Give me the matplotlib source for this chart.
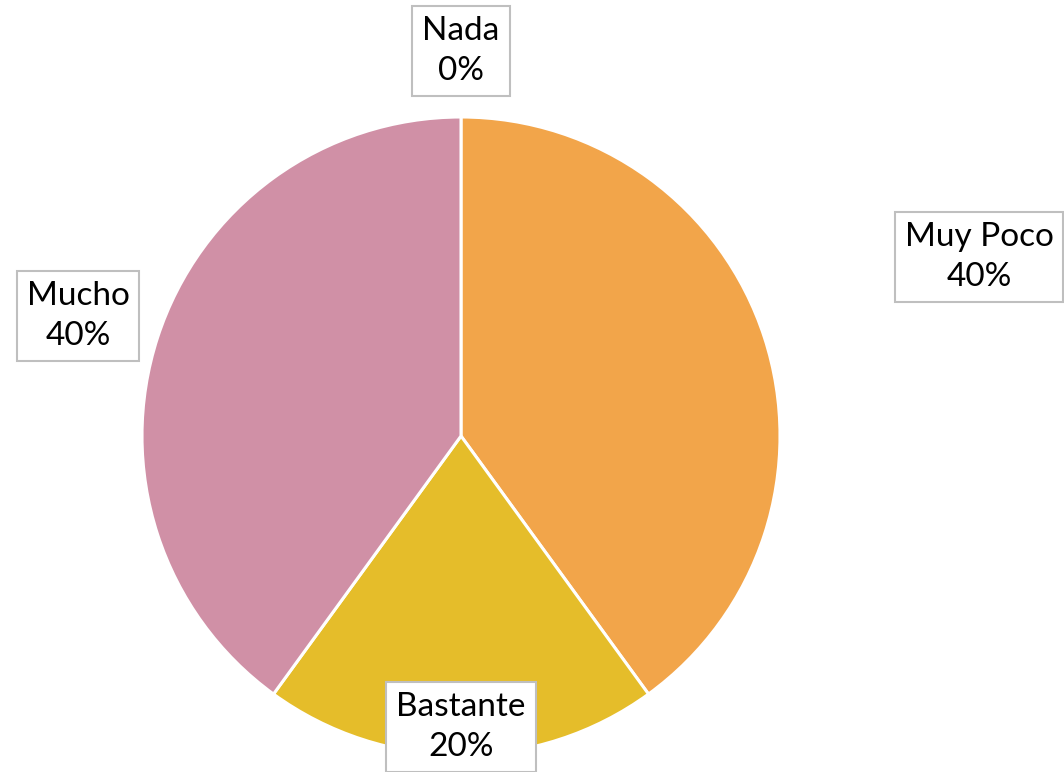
import matplotlib
matplotlib.use("Agg")
import matplotlib.pyplot as plt

categories = ["Nada", "Muy Poco", "Bastante", "Mucho"]
values = [0, 40, 20, 40]
colors = ["#5B9BD5", "#F2A54A", "#E5BD2A", "#D090A6"]

# label box centres in pixel coords (y from top)
label_pos = {
    "Nada": (461, 51),
    "Muy Poco": (979, 257),
    "Bastante": (461, 727),
    "Mucho": (78, 316),
}

W, H = 1064, 772
fig = plt.figure(figsize=(W / 100, H / 100), dpi=100)
ax = fig.add_axes([0, 0, 1, 1])

ax.pie(values, colors=colors, startangle=90, counterclock=False,
       center=(461, H - 436), radius=319,
       wedgeprops=dict(edgecolor="white", linewidth=2.2))

total = sum(values)
for cat, v in zip(categories, values):
    x, y = label_pos[cat]
    ax.text(x, H - y, f"{cat}\n{round(100 * v / total)}%", ha="center", va="center",
            fontsize=24, family=["Lato", "DejaVu Sans"], linespacing=1.45,
            bbox=dict(boxstyle="square,pad=0.3", facecolor="white",
                      edgecolor="#BFBFBF", linewidth=1.5))

ax.set_xlim(0, W)
ax.set_ylim(0, H)
ax.set_aspect("equal")
ax.axis("off")

fig.savefig("out.png", dpi=100)
